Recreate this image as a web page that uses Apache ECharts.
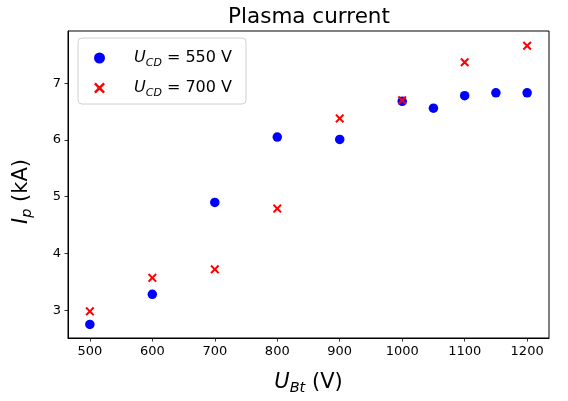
<!DOCTYPE html>
<html>
<head>
<meta charset="utf-8">
<script src="https://cdn.jsdelivr.net/npm/echarts@6/dist/echarts.min.js"></script>
<style>
  html, body { margin: 0; padding: 0; background: #fff; }
  #chart { width: 568px; height: 401px; }
</style>
</head>
<body>
<div id="chart"></div>
<script>
// Plasma current versus toroidal-field voltage, for two CD voltages
const ubt550 = [500, 600, 700, 800, 900, 1000, 1050, 1100, 1150, 1200];
const ip550 = [2.75, 3.28, 4.90, 6.05, 6.01, 6.68, 6.56, 6.78, 6.83, 6.83];
const ubt700 = [500, 600, 700, 800, 900, 1000, 1100, 1200];
const ip700 = [2.98, 3.57, 3.72, 4.79, 6.38, 6.70, 7.37, 7.66];
const xTicks = [500, 600, 700, 800, 900, 1000, 1100, 1200];
const yTicks = [3, 4, 5, 6, 7];
const seriesNames = ['550', '700'];

const FONT = 'DejaVu Sans';
const xMark = 'path://M0,1.6 L1.6,0 L5,3.4 L8.4,0 L10,1.6 L6.6,5 L10,8.4 L8.4,10 L5,6.6 L1.6,10 L0,8.4 L3.4,5 Z';

const toPairs = (xs, ys) => xs.map((x, i) => [x, ys[i]]);

const chart = echarts.init(document.getElementById('chart'), null, { renderer: 'canvas' });

const axisCommon = {
  axisLine: { show: true, lineStyle: { color: '#000', width: 1 } },
  axisTick: { show: true, inside: false, length: 3.5, lineStyle: { color: '#000', width: 0.8 } },
  splitLine: { show: false },
  axisLabel: { color: '#000', fontFamily: FONT, fontSize: 13, formatter: v => String(v) }
};

const nameRich = (size, sub) => ({
  u: { fontFamily: FONT, fontStyle: 'italic', fontSize: size, lineHeight: size + 6 },
  s: { fontFamily: FONT, fontStyle: 'italic', fontSize: sub, lineHeight: size + 6, verticalAlign: 'bottom' },
  t: { fontFamily: FONT, fontSize: size, lineHeight: size + 6 }
});

const legendRich = nameRich(16, 11);
legendRich.u = Object.assign({}, legendRich.u, { padding: [0, 0, 0, 12] });

chart.setOption({
  animation: false,
  backgroundColor: '#fff',
  title: {
    text: 'Plasma current',
    left: 304,
    top: 1,
    textAlign: 'center',
    textStyle: { fontFamily: FONT, fontSize: 21.5, fontWeight: 'normal', color: '#000' }
  },
  grid: {
    left: 68, right: 19, top: 31, bottom: 59,
    show: true, borderColor: '#000', borderWidth: 1, backgroundColor: 'transparent'
  },
  legend: {
    orient: 'vertical',
    left: 78,
    top: 38,
    padding: [12, 14, 5, 16],
    itemGap: 11,
    itemWidth: 35,
    itemHeight: 11,
    backgroundColor: 'rgba(255,255,255,0.8)',
    borderColor: '#d0d0d0',
    borderWidth: 1,
    borderRadius: 4,
    data: seriesNames,
    formatter: name => '{u|U}{s|CD}{t| = ' + name + ' V}',
    textStyle: { fontFamily: FONT, color: '#000', rich: legendRich }
  },
  xAxis: Object.assign({}, axisCommon, {
    type: 'value',
    min: 465,
    max: 1235,
    axisTick: Object.assign({}, axisCommon.axisTick, { customValues: xTicks }),
    axisLabel: Object.assign({}, axisCommon.axisLabel, { margin: 7, customValues: xTicks }),
    name: '{u|U}{s|Bt}{t| (V)}',
    nameLocation: 'middle',
    nameGap: 31,
    nameTextStyle: { fontFamily: FONT, color: '#000', rich: nameRich(21, 14.5) }
  }),
  yAxis: Object.assign({}, axisCommon, {
    type: 'value',
    min: 2.51,
    max: 7.92,
    axisTick: Object.assign({}, axisCommon.axisTick, { customValues: yTicks }),
    axisLabel: Object.assign({}, axisCommon.axisLabel, { margin: 7, customValues: yTicks }),
    name: '{u|I}{s|p}{t| (kA)}',
    nameLocation: 'middle',
    nameGap: 33,
    nameRotate: 90,
    nameTextStyle: { fontFamily: FONT, color: '#000', padding: [0, 14, 0, 0], rich: nameRich(21, 14.5) }
  }),
  series: [
    {
      name: '550',
      type: 'scatter',
      symbol: 'circle',
      symbolSize: 9.5,
      itemStyle: { color: '#0000ff', opacity: 1 },
      data: toPairs(ubt550, ip550)
    },
    {
      name: '700',
      type: 'scatter',
      symbol: xMark,
      symbolSize: 9,
      itemStyle: { color: '#ff0000', opacity: 1 },
      data: toPairs(ubt700, ip700)
    }
  ]
});
</script>
</body>
</html>
